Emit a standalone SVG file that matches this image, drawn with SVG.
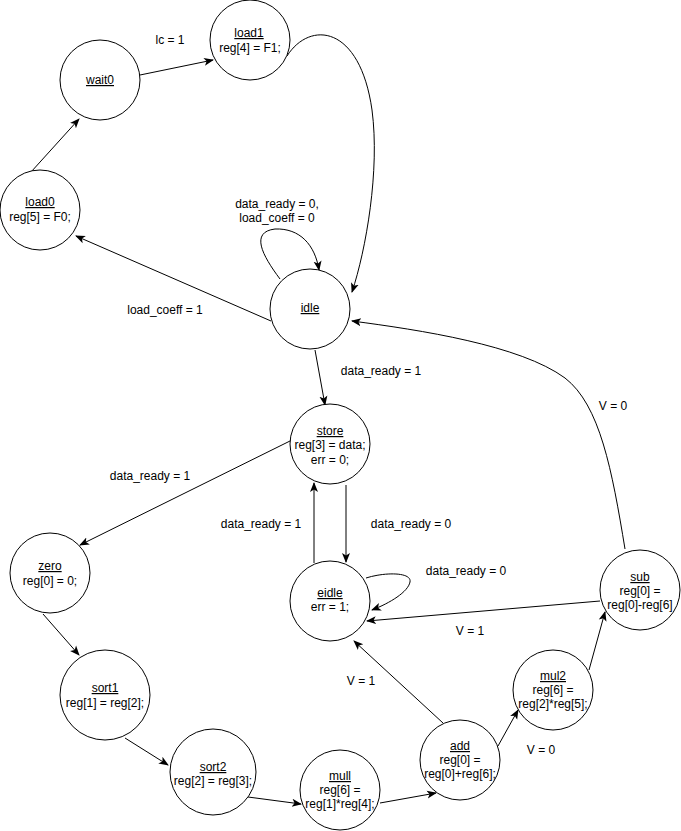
<svg xmlns="http://www.w3.org/2000/svg" width="681" height="831" viewBox="0 0 681 831">
  <style>
    .node circle { fill: #ffffff; stroke: #000000; stroke-width: 1; }
    text { font-family: "Liberation Sans", Arial, sans-serif; font-size: 12px; fill: #000000; text-anchor: middle; }
    .title { text-decoration: underline; }
    .edge { fill: none; stroke: #000000; stroke-width: 1; marker-end: url(#arrow); }
  </style>
  <defs>
    <marker id="arrow" viewBox="0 0 10 10" refX="9" refY="5" markerWidth="10" markerHeight="10" markerUnits="userSpaceOnUse" orient="auto">
      <path d="M0,1 L10,5 L0,9 L2.5,5 Z" fill="#000000"/>
    </marker>
  </defs>
  <rect width="681" height="831" fill="#ffffff"/>

  <!-- connectors -->
  <g id="connectors">
    <path class="edge" d="M31,172 L79,119"/>
    <path class="edge" d="M140,75 L213,60"/>
    <path class="edge" d="M287,56 C310,20 360,25 372,110 C380,170 366,250 352,292"/>
    <path class="edge" d="M280,279 C262,255 250,232 275,229 C300,228 315,245 319,270"/>
    <path class="edge" d="M271,321 L76,236"/>
    <path class="edge" d="M315,350 L325,405"/>
    <path class="edge" d="M292,440 L80,545"/>
    <path class="edge" d="M314,563 L314,483"/>
    <path class="edge" d="M346,485 L346,562"/>
    <path class="edge" d="M366,578 C385,572 412,572 410,582 C408,592 390,603 372,610"/>
    <path class="edge" d="M600,601 L367,621"/>
    <path class="edge" d="M43,614 L79,655"/>
    <path class="edge" d="M125,738 L168,765"/>
    <path class="edge" d="M248,797 L301,804"/>
    <path class="edge" d="M380,803 L436,793"/>
    <path class="edge" d="M443,723 L354,641"/>
    <path class="edge" d="M498,746 L518,710"/>
    <path class="edge" d="M589,670 L605,612"/>
    <path class="edge" d="M625,549 C612,470 600,405 565,378 C520,345 420,330 352,321"/>

    <text x="170" y="44">lc = 1</text>
    <text x="277" y="208">data_ready = 0,</text>
    <text x="277" y="222">load_coeff = 0</text>
    <text x="165" y="314">load_coeff = 1</text>
    <text x="381" y="375">data_ready = 1</text>
    <text x="150" y="480">data_ready = 1</text>
    <text x="261" y="528">data_ready = 1</text>
    <text x="411" y="528">data_ready = 0</text>
    <text x="466" y="575">data_ready = 0</text>
    <text x="470" y="635">V = 1</text>
    <text x="361" y="685">V = 1</text>
    <text x="541" y="754">V = 0</text>
    <text x="613" y="410">V = 0</text>
  </g>

  <!-- states -->
  <g id="wait0" class="node">
    <circle cx="100" cy="80" r="40"/>
    <text x="100" y="84" class="title">wait0</text>
  </g>
  <g id="load1" class="node">
    <circle cx="250" cy="40" r="40"/>
    <text x="249" y="37" class="title">load1</text>
    <text x="250" y="52">reg[4] = F1;</text>
  </g>
  <g id="load0" class="node">
    <circle cx="40" cy="210" r="40"/>
    <text x="40" y="206" class="title">load0</text>
    <text x="40" y="221">reg[5] = F0;</text>
  </g>
  <g id="idle" class="node">
    <circle cx="310" cy="309" r="40"/>
    <text x="310" y="312" class="title">idle</text>
  </g>
  <g id="store" class="node">
    <circle cx="330" cy="444" r="40"/>
    <text x="330" y="435" class="title">store</text>
    <text x="330" y="449">reg[3] = data;</text>
    <text x="330" y="464">err = 0;</text>
  </g>
  <g id="eidle" class="node">
    <circle cx="330" cy="601" r="40"/>
    <text x="330" y="597" class="title">eidle</text>
    <text x="330" y="611">err = 1;</text>
  </g>
  <g id="zero" class="node">
    <circle cx="50" cy="573" r="40"/>
    <text x="50" y="570" class="title">zero</text>
    <text x="50" y="585">reg[0] = 0;</text>
  </g>
  <g id="sort1" class="node">
    <circle cx="105" cy="695" r="45"/>
    <text x="105" y="692" class="title">sort1</text>
    <text x="105" y="707">reg[1] = reg[2];</text>
  </g>
  <g id="sort2" class="node">
    <circle cx="213" cy="772" r="43"/>
    <text x="213" y="771" class="title">sort2</text>
    <text x="213" y="785">reg[2] = reg[3];</text>
  </g>
  <g id="mull" class="node">
    <circle cx="340" cy="790" r="40"/>
    <text x="340" y="780" class="title">mull</text>
    <text x="340" y="794">reg[6] =</text>
    <text x="340" y="808">reg[1]*reg[4];</text>
  </g>
  <g id="add" class="node">
    <circle cx="460" cy="760" r="40"/>
    <text x="460" y="750" class="title">add</text>
    <text x="460" y="764">reg[0] =</text>
    <text x="460" y="778">reg[0]+reg[6];</text>
  </g>
  <g id="mul2" class="node">
    <circle cx="553" cy="690" r="40"/>
    <text x="553" y="680" class="title">mul2</text>
    <text x="553" y="694">reg[6] =</text>
    <text x="553" y="708">reg[2]*reg[5];</text>
  </g>
  <g id="sub" class="node">
    <circle cx="640" cy="590" r="40"/>
    <text x="640" y="581" class="title">sub</text>
    <text x="640" y="595">reg[0] =</text>
    <text x="640" y="609">reg[0]-reg[6]</text>
  </g>
</svg>
